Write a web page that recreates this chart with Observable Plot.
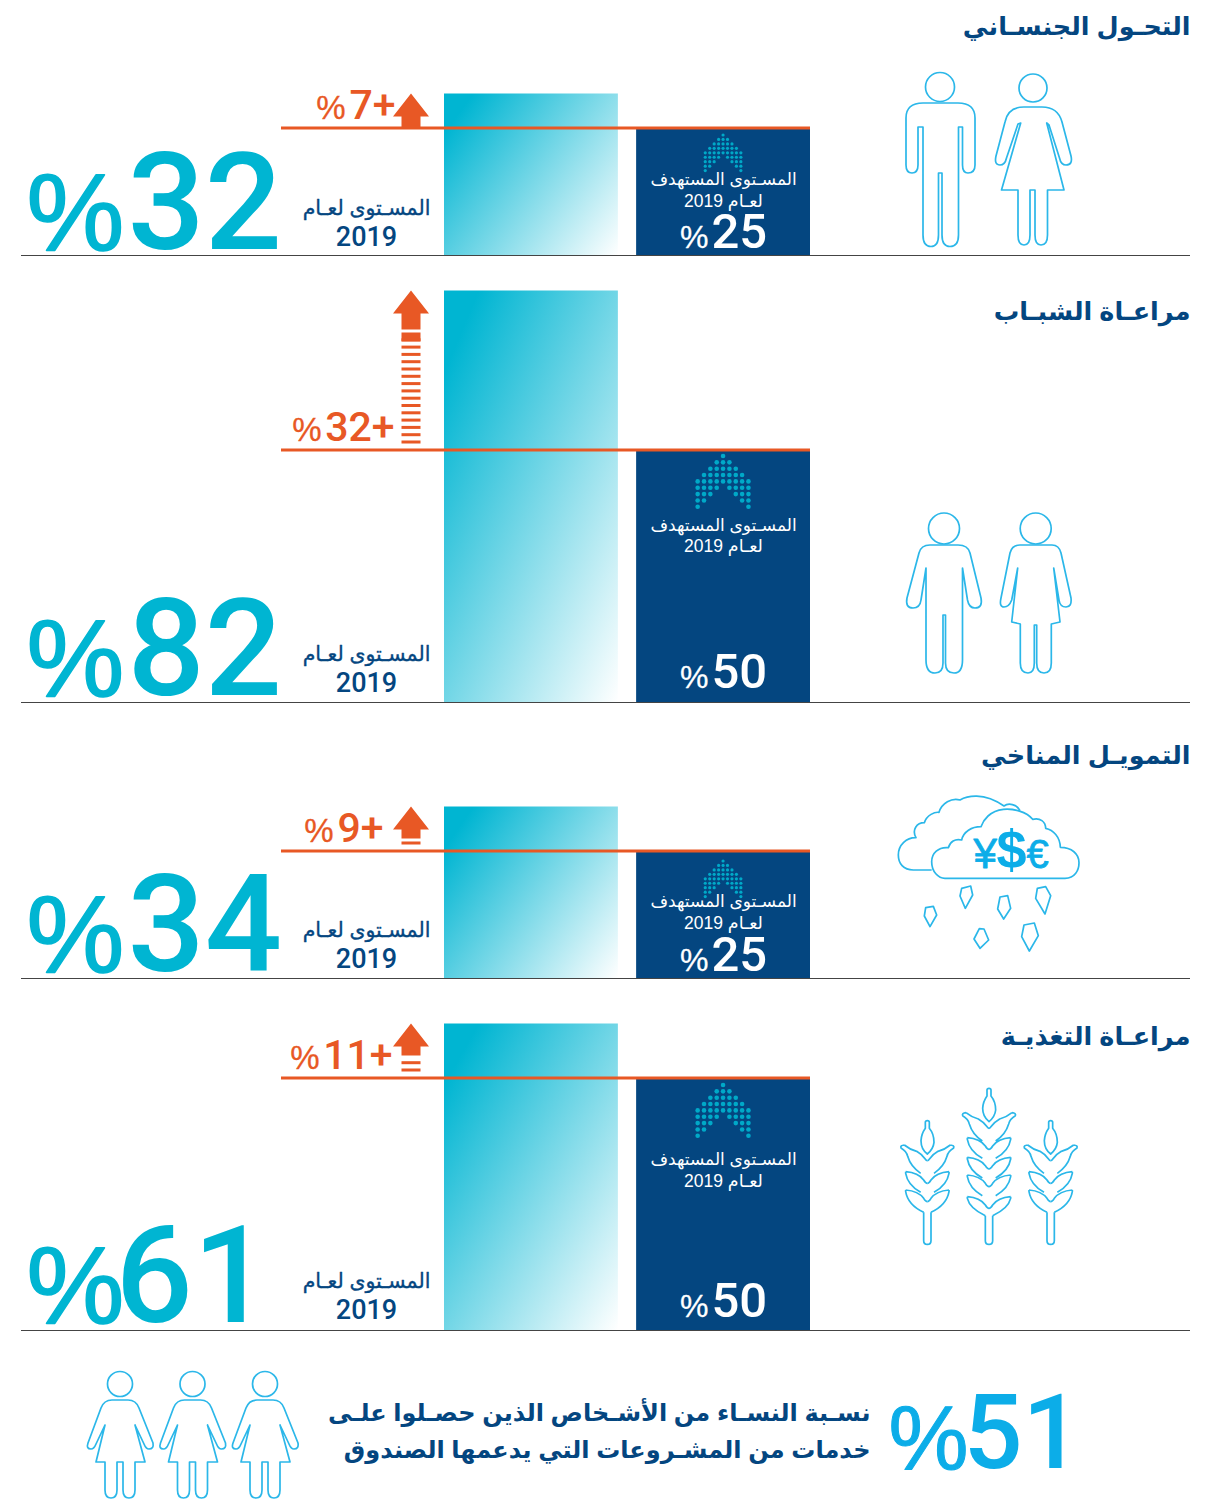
<!DOCTYPE html>
<html lang="ar">
<head>
<meta charset="utf-8">
<script src="https://cdn.jsdelivr.net/npm/d3@7"></script>
<script src="https://cdn.jsdelivr.net/npm/@observablehq/plot@0.6"></script>
<style>
  html, body { margin: 0; padding: 0; background: #fff; }
  #chart { position: relative; width: 1223px; height: 1500px; overflow: hidden; }
  #chart svg { display: block; position: absolute; left: 0; }
</style>
</head>
<body>
<div id="chart"></div>
<script>
// ---- Data ----
const titles = ["التحـول الجنسـاني", "مراعـاة الشبـاب", "التمويـل المناخي", "مراعـاة التغذيـة"];
const currentLevels = [32, 82, 34, 61];
const targetLevels = [25, 50, 25, 50];
const increases = [7, 32, 9, 11];
const columns = ["current", "target"];
const currentLabel = "المسـتوى لعـام";
const currentYear = "2019";
const targetLabel = "المسـتوى المستهدف";
const targetYear = "\u202Bلعـام 2019\u202C";
const womenShare = 51;
const womenLines = ["نسـبة النسـاء من الأشـخاص الذين حصـلوا علـى", "خدمات من المشـروعات التي يدعمها الصندوق"];
const arrowDotRows = [[0], [-1, 0, 1], [-2, -1, 0, 1, 2], [-3, -2, -1, 0, 1, 2, 3], [-4, -3, -2, -1, 0, 1, 2, 3, 4],
  [-4, -3, -2, -1, 1, 2, 3, 4], [-4, -3, -2, 2, 3, 4], [-4, -3, 3, 4], [-4, 4]];

// ---- Styling and layout ----
const cyan = "#00b5d2", navy = "#044680", orange = "#e85825", iconBlue = "#2bb7e9", brightBlue = "#0cade8";
const sans = "'Liberation Sans','DejaVu Sans',sans-serif";
const digits = "Roboto,'Liberation Sans',sans-serif";
const pxPerPercent = 5;
const floor = 2.5;      // space between the frame and the logical panel bottom
const bleed = 40;       // extra transparent room under each panel so glyph boxes are not clipped
const panels = [
  {top: 0, height: 256, titleY: 34, labelY: 247, valueDx: 0, targetY: 184, targetYearY: 206, targetValueY: 247, increaseEnd: 395, dotTop: 135, dotStep: 4.45, dotR: 1.6, fade: [1.15, 0.78]},
  {top: 256, height: 447, titleY: 319, labelY: 693, valueDx: 0, targetY: 530, targetYearY: 551, targetValueY: 687, increaseEnd: 394, dotTop: 456, dotStep: 6.35, dotR: 2.3, fade: [1, 1]},
  {top: 703, height: 276, titleY: 763, labelY: 969, valueDx: 0, targetY: 906, targetYearY: 928, targetValueY: 970, increaseEnd: 383, dotTop: 861, dotStep: 4.45, dotR: 1.6, fade: [1.15, 0.78]},
  {top: 979, height: 352, titleY: 1044, labelY: 1320, valueDx: -12, targetY: 1164, targetYearY: 1186, targetValueY: 1316, increaseEnd: 392, dotTop: 1085, dotStep: 6.35, dotR: 2.3, fade: [1, 1]}
];

// text at a page position, relative to the frame's bottom-left corner
function label(panel, text, x, y, options = {}) {
  return Plot.text([text], {
    text: d => d,
    frameAnchor: "bottom-left",
    lineAnchor: "bottom",
    dx: x - 21,
    dy: y - panel.top - (panel.height - floor),
    fontFamily: sans,
    textAnchor: "start",
    ...options
  });
}
const heavy = (color, width) => ({fill: color, stroke: color, strokeWidth: width});

function icon(panel, draw) {
  return () => {
    const g = d3.create("svg:g")
      .attr("transform", `translate(0,${-panel.top})`)
      .attr("fill", "none").attr("stroke", iconBlue).attr("stroke-width", 1.7).attr("stroke-linejoin", "round");
    draw(g);
    return g.node();
  };
}
const head = (g, cx, cy, r) => g.append("circle").attr("cx", cx).attr("cy", cy).attr("r", r);
const outline = (g, d) => g.append("path").attr("d", d);
// drawn in the coordinates of a 3x crop
const crop = (g, ox, oy) => g.append("g").attr("transform", `translate(${ox},${oy}) scale(${1 / 3})`).attr("stroke-width", 5.1);

function wheat(g, c, grainTop, tipY, rows, stalkTop, bottom) {
  const side = (s) => {
    const X = v => c + s * v;
    const Y = v => tipY + v;
    let d = `M${X(69)} ${Y(-7)} Q${X(52)} ${Y(7)} ${X(32)} ${Y(12)} Q${X(15)} ${Y(22)} ${X(7)} ${Y(34)} Q${X(3)} ${Y(40)} ${c} ${Y(40)}`;
    d += ` M${X(69)} ${Y(-7)} Q${X(82)} ${Y(-6)} ${X(79)} ${Y(2)} Q${X(62)} ${Y(12)} ${X(59)} ${Y(27)} Q${X(50)} ${Y(58)} ${X(20)} ${Y(78)}`;
    rows.forEach((t, r) => {
      d += ` M${X(65)} ${t} Q${X(27)} ${t + 3} ${X(11)} ${t + 25} Q${X(5)} ${t + 35} ${c} ${t + 35}`;
      d += r === rows.length - 1
        ? ` M${X(65)} ${t} L${X(65)} ${t + 5} Q${X(58)} ${stalkTop - 22} ${X(11)} ${stalkTop}`
        : ` M${X(65)} ${t} L${X(65)} ${t + 5} Q${X(59)} ${t + 40} ${X(20)} ${t + 62}`;
    });
    return d;
  };
  const k = grainTop;
  const grain = `M${c - 6} ${k + 5} Q${c - 6} ${k} ${c} ${k} Q${c + 6} ${k} ${c + 6} ${k + 5} L${c + 6} ${k + 23} Q${c + 20} ${k + 40} ${c + 20} ${k + 65} Q${c + 18} ${k + 85} ${c} ${k + 100} Q${c - 19} ${k + 85} ${c - 19} ${k + 60} Q${c - 18} ${k + 40} ${c - 6} ${k + 23} Z`;
  const stalk = `M${c - 11} ${stalkTop} L${c - 11} ${bottom - 11} Q${c - 11} ${bottom} ${c} ${bottom} Q${c + 11} ${bottom} ${c + 11} ${bottom - 11} L${c + 11} ${stalkTop}`;
  const w = crop(g, 880, 1070);
  [grain, stalk, side(-1), side(1)].forEach(d => w.append("path").attr("d", d));
}

const panelIcons = [
  g => { // man and woman, first panel
    head(g, 940, 87, 14.5);
    outline(g, "M923 127 L923 235 Q923 246.5 931 246.5 Q938.5 246.5 938.5 235 L938.5 173 L942 173 L942 235 Q942 246.5 950 246.5 Q958.5 246.5 958.5 235 L958.5 127 L962.5 127 L962.5 165 Q962.5 173 968 173 Q975 173 975 165 L975 118 Q975 103 958 103 L923 103 Q906 103 906 118 L906 165 Q906 173 912 173 Q918 173 918 165 L918 127 Z");
    head(g, 1033, 88, 14);
    outline(g, "M1018 124 L1006.5 158 Q1005 165 1000 165 Q994 165 996 156 L1005 122 Q1008 107 1024 107 L1042 107 Q1058 107 1062 122 L1071 156 Q1073 165 1066 165 Q1061 165 1059.5 158 L1049 125 L1046.7 123 L1064 190 L1047.5 190 L1047.5 235 Q1047.5 245 1041 245 Q1035 245 1035 235 L1035 190 L1030 190 L1030 235 Q1030 245 1024 245 Q1018 245 1018 235 L1018 190 L1001.5 190 L1020.7 123 Z");
  },
  g => { // man and woman, second panel
    head(g, 944, 528.5, 15.5);
    outline(g, "M926 568 L926 660 Q926 673 935 673 Q943 673 943 663 L943 615 L945.5 615 L945.5 663 Q945.5 673 954 673 Q962.5 673 962.5 660 L962.5 568 L967.5 600 Q969 608 975 608 Q983 608 981 598 L970 553 Q968 545 958 545 L930 545 Q921 545 919 553 L907 598 Q905 608 913 608 Q920 608 921 600 Z");
    head(g, 1035.7, 528.5, 15.5);
    outline(g, "M1017.7 568 L1011.7 600 Q1009 607 1004 607 Q999 607 1001 598 L1010 553 Q1012 545 1020 545 L1052 545 Q1059 545 1061 553 L1071 598 Q1072 607 1066 607 Q1060 607 1059 600 L1053.7 568 L1060 622 L1051.3 624 L1051.3 663 Q1051.3 673 1044 673 Q1036.7 673 1036.7 663 L1036.7 625 L1034.3 625 L1034.3 663 Q1034.3 673 1028 673 Q1020.3 673 1020.3 663 L1020.3 624 L1011.7 622 Z");
  },
  g => { // clouds with falling drops
    const c = crop(g, 880, 780);
    c.append("path").attr("d", "M195 295 L555 295 C585 295 597 270 597 248 C597 222 575 202 541 202 C540 170 520 150 497 145 C497 125 480 112 458 118 C440 95 400 85 370 88 C330 92 310 120 303 140 C275 140 250 155 245 180 C225 175 210 185 205 203 C175 200 155 220 155 245 C155 275 175 295 195 295 Z");
    c.append("path").attr("d", "M155 270 L100 270 C70 270 55 250 55 225 C55 195 80 172 108 173 C95 150 110 128 133 128 C140 105 165 95 177 97 C185 70 215 52 240 60 C260 48 310 35 372 78 C385 68 410 72 420 92");
    ["245,325 272,318 278,345 256,385 240,348", "137,383 160,379 170,405 150,440 133,408", "360,351 383,347 392,385 371,417 353,387",
     "472,325 497,320 512,347 495,402 467,355", "298,446 312,447 326,480 300,505 282,477", "432,435 463,429 475,467 448,513 425,470"]
      .forEach(p => c.append("polygon").attr("points", p));
  },
  g => { // three wheat ears
    wheat(g, 142, 152, 232, [305, 360], 427, 523);
    wheat(g, 327, 55, 135, [203, 262, 315, 380], 437, 523);
    wheat(g, 512, 152, 232, [305, 360], 427, 523);
  }
];

function panelPlot(i) {
  const p = panels[i];
  const rows = columns.map((kind, k) => ({kind, value: [currentLevels[i], targetLevels[i]][k]}));
  const gradId = `fade${i}`;
  const value = currentLevels[i], target = targetLevels[i];
  const increaseDigits = String(increases[i]);
  const increaseWidth = (increaseDigits.length * 0.5615 + 0.58) * 41;
  const marks = [
    () => {
      const d = d3.create("svg:defs");
      const g = d.append("linearGradient").attr("id", gradId).attr("x1", 0).attr("y1", 0).attr("x2", p.fade[0]).attr("y2", p.fade[1]);
      g.append("stop").attr("offset", 0.1).attr("stop-color", cyan);
      g.append("stop").attr("offset", 1).attr("stop-color", "#ffffff");
      return d.node();
    },
    Plot.barY(rows.filter(d => d.kind === "current"), {x: "kind", y: "value", fill: `url(#${gradId})`, insetBottom: -1.5}),
    Plot.barY(rows.filter(d => d.kind === "target"), {x: "kind", y: "value", fill: navy, insetBottom: -1.5}),
    Plot.ruleY([target], {stroke: orange, strokeWidth: 2.8, insetLeft: 260, insetRight: 380, dy: -1}),
    Plot.ruleY([-0.3], {stroke: "#444", strokeWidth: 1.2}),

    // section title
    label(p, titles[i], 1190, p.titleY, {textAnchor: "end", fontSize: 25.5, fontWeight: "bold", fill: navy}),

    // big current value
    label(p, "%", 26, p.labelY + 2, {fontSize: 110, ...heavy(cyan, 1.6)}),
    label(p, String(value), 127 + p.valueDx, p.labelY + 1, {fontFamily: digits, fontWeight: 500, fontSize: 136, fill: cyan}),
    label(p, currentLabel, 366, p.labelY - 33, {textAnchor: "middle", fontSize: 20.5, ...heavy(navy, 0.35)}),
    label(p, currentYear, 366, p.labelY - 1.5, {textAnchor: "middle", fontFamily: digits, fontWeight: 500, fontSize: 27, fill: navy}),

    // target column
    label(p, targetLabel, 723, p.targetY, {textAnchor: "middle", fontSize: 17, fill: "#fff"}),
    label(p, targetYear, 723, p.targetYearY, {textAnchor: "middle", fontSize: 17.5, fill: "#fff"}),
    label(p, "%", 708, p.targetValueY, {textAnchor: "end", fontSize: 32, ...heavy("#fff", 0.3)}),
    label(p, String(target), 711, p.targetValueY, {fontFamily: digits, fontWeight: 500, fontSize: 49, fill: "#fff"}),

    // increase above the target line
    Plot.text([`${increaseDigits}+`], {
      text: d => d, y: () => target, frameAnchor: "left", lineAnchor: "bottom",
      dx: p.increaseEnd - 21, dy: -10, textAnchor: "end", fontFamily: digits, fontWeight: 500, fontSize: 41, fill: orange
    }),
    Plot.text(["%"], {
      text: d => d, y: () => target, frameAnchor: "left", lineAnchor: "bottom",
      dx: p.increaseEnd - 21 - increaseWidth - 3, dy: -10,
      textAnchor: "end", fontFamily: sans, fontSize: 33, ...heavy(orange, 0.3)
    }),

    // dotted arrow in the target bar
    (index, scales) => {
      const g = d3.create("svg:g").attr("fill", "#00a9c8");
      const cx = scales.x("target") + scales.x.bandwidth() / 2;
      arrowDotRows.forEach((row, r) => row.forEach(c => {
        g.append("circle")
          .attr("cx", cx + c * p.dotStep)
          .attr("cy", p.dotTop - p.top + r * p.dotStep)
          .attr("r", p.dotR);
      }));
      return g.node();
    },

    // orange arrow rising from the target line to the current level
    (index, scales) => {
      const g = d3.create("svg:g").attr("fill", orange);
      const tip = scales.y(value), line = scales.y(target) - 1;
      const cx = 411, stemEnd = line - tip <= 36 ? line : tip + (line - tip > 100 ? 39 : 32);
      g.append("path").attr("d", `M${cx} ${tip} L${cx + 18} ${tip + 23} L${cx + 9.5} ${tip + 23} L${cx + 9.5} ${stemEnd} L${cx - 9.5} ${stemEnd} L${cx - 9.5} ${tip + 23} L${cx - 18} ${tip + 23} Z`);
      for (let y = line - 9; y > stemEnd + 3; y -= 7.3) {
        g.append("rect").attr("x", cx - 9.5).attr("y", y).attr("width", 19).attr("height", 3);
      }
      if (line - tip > 100) g.append("rect").attr("x", cx - 9.5).attr("y", stemEnd + 3).attr("width", 19).attr("height", 9);
      return g.node();
    },

    icon(p, panelIcons[i])
  ];
  if (i === 2) {
    marks.push(
      label(p, "¥", 973, 867, {fontSize: 42, ...heavy(brightBlue, 0.8)}),
      label(p, "$", 996, 867, {fontSize: 54, fontWeight: "bold", fill: brightBlue}),
      label(p, "€", 1026, 867, {fontSize: 40, ...heavy(brightBlue, 0.8)})
    );
  }
  const svg = Plot.plot({
    width: 1223, height: p.height + bleed,
    marginTop: 0, marginBottom: floor + bleed, marginLeft: 21, marginRight: 33,
    style: {background: "transparent"},
    x: {type: "band", domain: columns, range: [444, 810], paddingInner: 0.095, paddingOuter: 0, round: false, axis: null},
    y: {domain: [0, (p.height - floor) / pxPerPercent], range: [p.height - floor, 0], axis: null},
    marks
  });
  svg.style.top = `${p.top}px`;
  return svg;
}

function footerPlot() {
  const p = {top: 1331, height: 169};
  const svg = Plot.plot({
    width: 1223, height: p.height,
    marginTop: 0, marginBottom: floor, marginLeft: 21, marginRight: 33,
    style: {background: "transparent"},
    marks: [
      label(p, "%", 888, 1468, {fontSize: 90, ...heavy(brightBlue, 1)}),
      label(p, String(womenShare), 963, 1467, {fontFamily: digits, fontWeight: 500, fontSize: 104, fill: brightBlue}),
      label(p, womenLines[0], 870, 1420, {textAnchor: "end", fontSize: 24, fontWeight: "bold", fill: navy}),
      label(p, womenLines[1], 870, 1457, {textAnchor: "end", fontSize: 24, fontWeight: "bold", fill: navy}),
      icon(p, g => {
        [0, 72.5, 145].forEach(dx => {
          const w = g.append("g").attr("transform", `translate(${dx},0)`);
          head(w, 120, 1384, 12.5);
          outline(w, "M105 1425 L96 1444 Q94 1449 91 1449 Q86 1449 88 1443 L101 1408 Q104 1400 112 1400 L128 1400 Q136 1400 139 1408 L153 1443 Q154 1449 149 1449 Q146 1449 144 1444 L135 1425 L145 1462 L135 1462 L135 1490 Q135 1498 129 1498 Q123 1498 123 1490 L123 1462 L117 1462 L117 1490 Q117 1498 111 1498 Q105 1498 105 1490 L105 1462 L96 1462 Z");
        });
      })
    ]
  });
  svg.style.top = `${p.top}px`;
  return svg;
}

const root = document.getElementById("chart");
panels.forEach((_, i) => root.append(panelPlot(i)));
root.append(footerPlot());
</script>
</body>
</html>
